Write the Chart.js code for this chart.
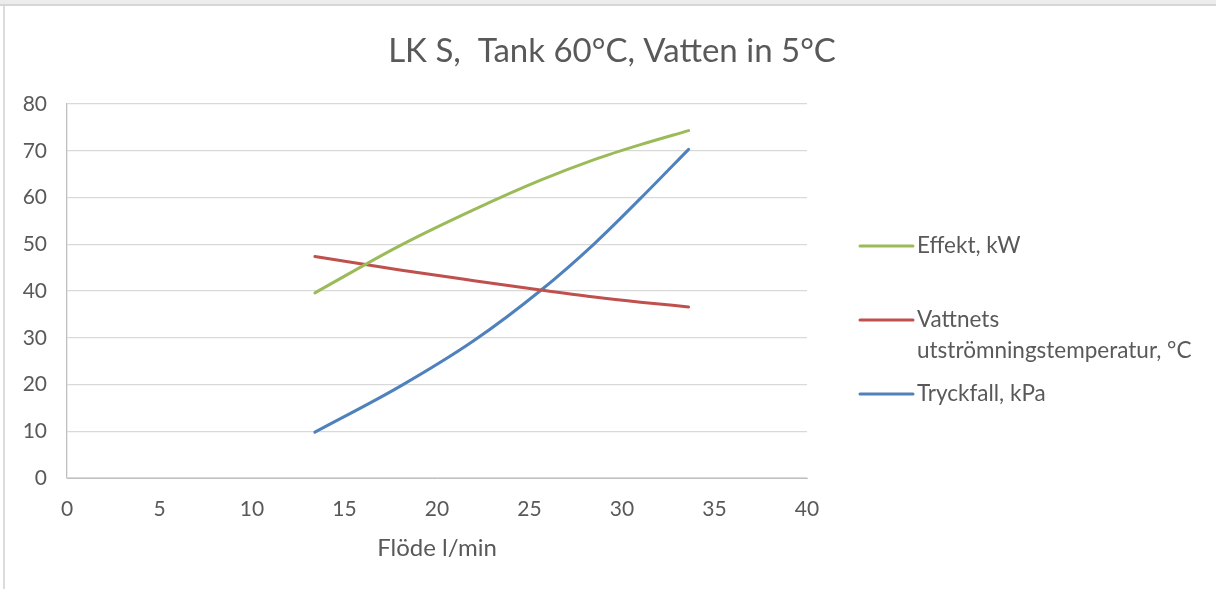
<!DOCTYPE html>
<html>
<head>
<meta charset="utf-8">
<script src="https://cdn.jsdelivr.net/npm/chart.js@4"></script>
<style>
  html, body { margin: 0; padding: 0; background: #fff; }
  #wrap { width: 1216px; height: 589px; position: relative; }
</style>
</head>
<body>
<div id="wrap"><canvas id="chart"></canvas></div>
<script>
const flow = [13.4, 18, 22, 25.6, 28.5, 31, 33.6];
const effekt = [39.6, 49.7, 57.4, 63.7, 68.1, 71.3, 74.3];
const utTemp = [47.4, 44.5, 42.2, 40.2, 38.7, 37.6, 36.6];
const tryckfall = [9.8, 19.6, 29.4, 40.1, 50.1, 59.8, 70.3];
const seriesNames = ["Effekt, kW", "Vattnets utströmningstemperatur, °C", "Tryckfall, kPa"];
const legendLines = [["Effekt, kW"], ["Vattnets", "utströmningstemperatur, °C"], ["Tryckfall, kPa"]];
const chartTitle = "LK S,  Tank 60°C, Vatten in 5°C";
const xTicks = [0, 5, 10, 15, 20, 25, 30, 35, 40];
const yTicks = [0, 10, 20, 30, 40, 50, 60, 70, 80];

const textColor = "#595959";
const fontFamily = "Lato, 'Open Sans', sans-serif";

const pts = (ys) => flow.map((x, i) => ({ x: x, y: ys[i] }));

// frame edges, title and legend drawn on the canvas
const sidePlugin = {
  id: "side",
  beforeDraw(chart) {
    const ctx = chart.ctx;
    ctx.save();
    ctx.fillStyle = "#ececec";
    ctx.fillRect(0, 0, chart.width, 6);
    ctx.fillStyle = "#d6d6d6";
    ctx.fillRect(0, 4, chart.width, 2);
    ctx.fillStyle = "#dcdcdc";
    ctx.fillRect(3, 6, 2, chart.height - 6);
    ctx.restore();
  },
  afterDraw(chart) {
    const ctx = chart.ctx;
    ctx.save();
    ctx.fillStyle = textColor;
    ctx.textBaseline = "middle";
    ctx.textAlign = "center";
    ctx.font = "33px " + fontFamily;
    ctx.fillText(chartTitle, 612, 51);

    const rows = [246, 320, 394];
    ctx.font = "22.5px " + fontFamily;
    ctx.textAlign = "left";
    chart.data.datasets.forEach((ds, i) => {
      const y = rows[i];
      ctx.strokeStyle = ds.borderColor;
      ctx.lineWidth = 3;
      ctx.lineCap = "round";
      ctx.beginPath();
      ctx.moveTo(860, y);
      ctx.lineTo(913, y);
      ctx.stroke();
      ctx.fillStyle = textColor;
      legendLines[i].forEach((t, j) => ctx.fillText(t, 917, y + j * 31));
    });
    ctx.restore();
  }
};

new Chart(document.getElementById("chart"), {
  type: "line",
  data: {
    datasets: [
      { label: seriesNames[0], data: pts(effekt), borderColor: "#9BBB59" },
      { label: seriesNames[1], data: pts(utTemp), borderColor: "#C0504D" },
      { label: seriesNames[2], data: pts(tryckfall), borderColor: "#4F81BD" }
    ]
  },
  options: {
    responsive: true,
    maintainAspectRatio: false,
    animation: false,
    layout: { padding: { left: 0, right: 409, top: 104, bottom: 0 } },
    elements: {
      line: { borderWidth: 3, cubicInterpolationMode: "monotone", borderCapStyle: "round", fill: false },
      point: { radius: 0 }
    },
    plugins: {
      legend: { display: false },
      tooltip: { enabled: false },
      title: { display: false }
    },
    scales: {
      x: {
        type: "linear",
        min: 0,
        max: 40,
        afterBuildTicks: (s) => { s.ticks = xTicks.map((v) => ({ value: v })); },
        afterFit: (s) => { s.height = 111; },
        grid: { display: false, drawTicks: false },
        border: { display: true, color: "#bfbfbf", width: 1 },
        ticks: { color: textColor, padding: 19, maxRotation: 0, font: { family: fontFamily, size: 21 } },
        title: {
          display: true,
          text: "Flöde l/min",
          color: textColor,
          font: { family: fontFamily, size: 24 },
          padding: { top: 4, bottom: 26 }
        }
      },
      y: {
        min: 0,
        max: 80,
        afterBuildTicks: (s) => { s.ticks = yTicks.map((v) => ({ value: v })); },
        afterFit: (s) => { s.width = 67; },
        grid: { color: "#d9d9d9", lineWidth: 1.3, drawTicks: false },
        border: { display: true, color: "#bfbfbf", width: 1.3 },
        ticks: { color: textColor, padding: 20, font: { family: fontFamily, size: 21 } }
      }
    }
  },
  plugins: [sidePlugin]
});
</script>
</body>
</html>
